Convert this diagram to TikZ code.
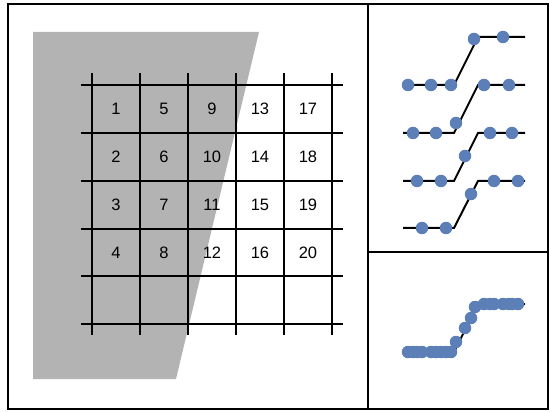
\documentclass[tikz,border=0pt]{standalone}
\usepackage{fontspec}
\setmainfont{Liberation Sans}
\definecolor{dotblue}{RGB}{92,127,184}
\definecolor{greyfill}{RGB}{179,179,179}
\begin{document}
\begin{tikzpicture}[x=1pt,y=-1pt,
  frame/.style={line width=2pt,black},
  gridline/.style={line width=2pt,black},
  stepline/.style={line width=2pt,black},
  sample/.style={circle,fill=dotblue,inner sep=0pt,minimum size=12.5pt},
  num/.style={font=\fontsize{16.5}{16.5}\selectfont,inner sep=0pt}]
\useasboundingbox (0,0) rectangle (550,412);
% shaded region
\fill[greyfill] (33,32) -- (259,32) -- (176,379) -- (33,379) -- cycle;
% grid
\foreach \y in {85,133,181,229,276,324} \draw[gridline] (81,\y) -- (343,\y);
\foreach \x in {92,140,188,236,284,332} \draw[gridline] (\x,73) -- (\x,335);
% numbers
\foreach \c in {0,...,4}{
  \foreach \r in {0,...,3}{
    \pgfmathtruncatemacro{\n}{\c*4+\r+1}
    \node[num] (n\n) at ({116+48*\c},{109+48*\r}) {\n};
  }
}
% frames
\draw[frame] (8,4) rectangle (548,409);
\draw[frame] (368,4) -- (368,409);
\draw[frame] (368,252) -- (548,252);
% step rows
\foreach \lo/\hi in {85/37,133/85,181/133,228/181}{
  \draw[stepline] (403,\lo) -- (454,\lo) -- (478,\hi) -- (525,\hi);
}
% row 1
\node[sample] (a1) at (408,85) {};
\node[sample] (a2) at (431,85) {};
\node[sample] (a3) at (451,85) {};
\node[sample] (a4) at (474,39) {};
\node[sample] (a5) at (503,37) {};
% row 2
\node[sample] (b1) at (413,133) {};
\node[sample] (b2) at (436,133) {};
\node[sample] (b3) at (456,123) {};
\node[sample] (b4) at (484,85) {};
\node[sample] (b5) at (509,85) {};
% row 3
\node[sample] (c1) at (417,181) {};
\node[sample] (c2) at (441,181) {};
\node[sample] (c3) at (465,156) {};
\node[sample] (c4) at (490,133) {};
\node[sample] (c5) at (512,133) {};
% row 4
\node[sample] (d1) at (422,228) {};
\node[sample] (d2) at (446,228) {};
\node[sample] (d3) at (471,194) {};
\node[sample] (d4) at (494,181) {};
\node[sample] (d5) at (518,181) {};
% combined
\draw[stepline] (403,352) -- (454,352) -- (478,304) -- (525,304);
\foreach \x [count=\i] in {408,413,417,422,431,436,441,446,451}
  \node[sample] (e\i) at (\x,352) {};
\node[sample] (f1) at (456,342) {};
\node[sample] (f2) at (465,328) {};
\node[sample] (f3) at (471,318) {};
\node[sample] (f4) at (475,307) {};
\foreach \x [count=\i] in {484,490,494,503,509,512,518}
  \node[sample] (g\i) at (\x,304) {};
\end{tikzpicture}
\end{document}
